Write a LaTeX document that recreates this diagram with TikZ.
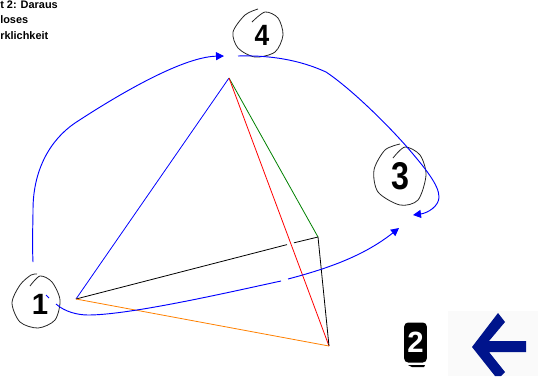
\documentclass[tikz,border=0pt]{standalone}
\usepackage{fontspec}
\setmainfont{Liberation Sans}
\usepackage{xcolor}
\usetikzlibrary{arrows.meta}
\definecolor{pfeilblau}{RGB}{0,20,140}
\definecolor{hellgrund}{RGB}{250,250,250}
\tikzset{
	zahl/.style={font=\bfseries\fontsize{22}{24}\selectfont, inner sep=0pt},
	ring/.style={black!85, line width=0.6pt},
	bogen/.style={blue, line width=0.7pt},
	kante/.style={line width=0.6pt}
}

\begin{document}
\begin{tikzpicture}[x=0.75pt, y=-0.75pt, >={Triangle[length=6pt,width=6pt]}]
	\clip (0,0) rectangle (538,376);
	\useasboundingbox (0,0) rectangle (538,376);
	% Eckpunkte
	\coordinate (spitze) at (229,78);
	\coordinate (links) at (76,299);
	\coordinate (mitte) at (318,237);
	\coordinate (unten) at (329,346);
	\coordinate (luecke1) at (287,244.6);
	\coordinate (luecke2) at (294,242.8);
	\draw[kante, blue] (spitze) -- (links);
	\draw[kante, green!50!black] (spitze) -- (mitte);
	\draw[kante, red] (spitze) -- (unten);
	\draw[kante, black] (links) -- (luecke1);
	\draw[kante, black] (luecke2) -- (mitte);
	\draw[kante, black] (mitte) -- (unten);
	\draw[kante, orange] (links) -- (unten);
	% Text oben links
	\node[anchor=north west, align=left, inner sep=0pt, font=\bfseries\fontsize{8.2}{11.6}\selectfont] (titel) at (0,0.5)
	{t 2: Daraus\\loses\\rklichkeit};
	% Zahlen
	\node[zahl] (eins) at (40,304) {1};
	\node[zahl] (drei) at (400,176) {\scalebox{1.1}[1.32]{3}};
	\node[zahl] (vier) at (262,35) {\scalebox{0.9}[1]{4}};
	\draw[ring] plot[smooth] coordinates {(37,274) (31,275) (20,285) (12,303) (20,322) (38,328) (55,320) (60,300) (52,282) (40,276) (30,286)};
	\draw[ring] plot[smooth] coordinates {(400,144) (385,150) (374,170) (378,192) (400,205) (418,200) (426,175) (420,155) (405,147) (393,158)};
	\draw[ring] plot[smooth] coordinates {(258,9) (245,15) (233,32) (238,48) (255,57) (275,52) (283,35) (278,18) (265,12) (252,22)};
	% Boegen
	\coordinate (start14) at (33,262);
	\coordinate (ziel14) at (224,56);
	\coordinate (start43) at (238,56);
	\coordinate (ziel43) at (413,215);
	\coordinate (start13) at (56,304);
	\coordinate (bruch1) at (281,281);
	\coordinate (bruch2) at (288,279);
	\coordinate (ziel13) at (399,228);
	\draw[bogen, ->] (start14) .. controls (32,240) and (33,225) .. (33,210) .. controls (33,170) and (50,140) .. (75,123) .. controls (110,100) and (180,57) .. (ziel14);
	\draw[bogen, ->] (start43) .. controls (270,55) and (300,60) .. (326,72) .. controls (350,88) and (385,122) .. (407,147) .. controls (425,168) and (439,185) .. (439,197) .. controls (439,206) and (428,213) .. (ziel43);
	\draw[bogen] (start13) .. controls (65,312) and (78,315) .. (88,315) .. controls (130,315) and (230,292) .. (bruch1);
	\draw[bogen, ->] (bruch2) .. controls (330,268) and (365,255) .. (ziel13);
	\draw[bogen] (46,295) -- (49,298);
	% Feld unten rechts
	\node[zahl, fill=black, text=white, rounded corners=3pt, minimum width=17pt, minimum height=30pt] (zwei) at (415.5,342.5) {2};
	\fill[black] (408,365) -- (425,365) -- (424,367) -- (412,367) -- cycle;
	\fill[hellgrund] (448,311) rectangle (538,376);
	\fill[pfeilblau] (472,347) -- (498,313) -- (505,322) -- (489,341) -- (526,341) -- (526,352) -- (489,352) -- (505,372) -- (501,376) -- (495,376) -- cycle;
\end{tikzpicture}
\end{document}
